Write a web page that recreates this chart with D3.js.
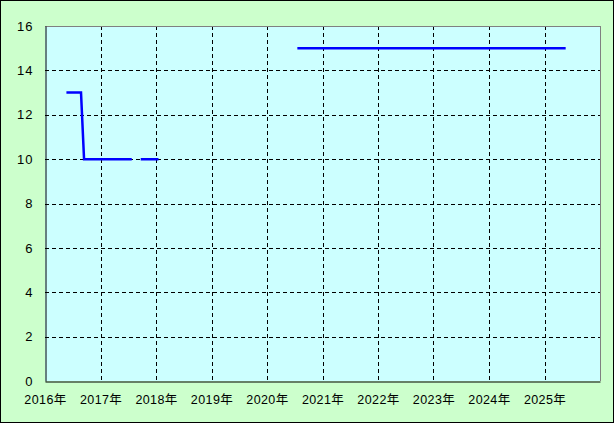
<!DOCTYPE html>
<html>
<head>
<meta charset="utf-8">
<script src="https://cdn.jsdelivr.net/npm/d3@7"></script>
<style>
  html, body { margin: 0; padding: 0; background: #ffffff; }
  svg { display: block; }
</style>
</head>
<body>
<svg id="chart" width="615" height="424"></svg>
<script>
// ---- data ----
const dates = ["2016-05-21", "2016-08-25", "2016-09-14", "2017-07-25", null,
               "2017-09-22", "2018-01-17", null,
               "2020-07-19", "2025-05-20"];
const values = [13, 13, 10, 10, null, 10, 10, null, 15, 15];
const yTicks = [0, 2, 4, 6, 8, 10, 12, 14, 16];
const xTickYears = [2016, 2017, 2018, 2019, 2020, 2021, 2022, 2023, 2024, 2025];
const xTickLabels = ["2016年", "2017年", "2018年", "2019年", "2020年", "2021年", "2022年", "2023年", "2024年", "2025年"];

// ---- layout ----
const W = 615, H = 424;
const plot = { left: 45, top: 26, right: 600, bottom: 381 };

const svg = d3.select("#chart");

svg.append("rect").attr("x", 0.5).attr("y", 0.5).attr("width", W - 2).attr("height", H - 2)
  .attr("fill", "#ccffcc").attr("stroke", "#000").attr("stroke-width", 1);

svg.append("rect").attr("x", plot.left).attr("y", plot.top)
  .attr("width", plot.right - plot.left).attr("height", plot.bottom - plot.top)
  .attr("fill", "#ccffff");

const x = d3.scaleTime()
  .domain([new Date(2016, 0, 1), new Date(2026, 0, 1)])
  .range([plot.left, plot.right]);
const y = d3.scaleLinear().domain([0, 16]).range([plot.bottom, plot.top]);

// grid
const grid = svg.append("g").attr("stroke", "#000").attr("stroke-width", 1)
  .attr("stroke-dasharray", "4,3").attr("shape-rendering", "crispEdges");
yTicks.filter(v => v > 0 && v < 16).forEach(v => {
  grid.append("line").attr("x1", plot.left).attr("x2", plot.right)
    .attr("y1", Math.round(y(v)) + 0.5).attr("y2", Math.round(y(v)) + 0.5);
});
xTickYears.filter(yr => yr > 2016).forEach(yr => {
  const xx = Math.round(x(new Date(yr, 0, 1))) + 0.5;
  grid.append("line").attr("x1", xx).attr("x2", xx)
    .attr("y1", plot.top).attr("y2", plot.bottom);
});

// frame: top/right gray, left/bottom black
svg.append("line").attr("x1", plot.left).attr("x2", plot.right + 0.5)
  .attr("y1", plot.top + 0.5).attr("y2", plot.top + 0.5).attr("stroke", "#808080");
svg.append("line").attr("x1", plot.right + 0.5).attr("x2", plot.right + 0.5)
  .attr("y1", plot.top).attr("y2", plot.bottom).attr("stroke", "#808080");

// axes
const yAxis = d3.axisLeft(y).tickValues(yTicks).tickSize(0).tickPadding(12);
const gy = svg.append("g").attr("transform", `translate(${plot.left + 0.5},0)`).call(yAxis);
gy.select(".domain").attr("stroke", "#000");
gy.selectAll("text").attr("font-family", "'Liberation Sans', Arial, sans-serif")
  .attr("font-size", 13).attr("letter-spacing", "1px").attr("fill", "#000");

const xAxis = d3.axisBottom(x)
  .tickValues(xTickYears.map(yr => new Date(yr, 0, 1)))
  .tickFormat((d, i) => xTickLabels[i]).tickSize(0).tickPadding(14);
const gx = svg.append("g").attr("transform", `translate(0,${plot.bottom + 0.5})`).call(xAxis);
gx.select(".domain").attr("stroke", "#000");
gx.selectAll("text").attr("font-family", "'Liberation Sans', 'Noto Sans CJK JP', sans-serif")
  .attr("font-size", 12.5).attr("letter-spacing", "0.4px").attr("fill", "#000");

// line
const pts = dates.map((d, i) => ({ date: d ? new Date(d + "T00:00:00") : null, v: values[i] }));
const line = d3.line().defined(p => p.date && p.v != null)
  .x(p => x(p.date)).y(p => y(p.v));
svg.append("path").datum(pts).attr("d", line)
  .attr("fill", "none").attr("stroke", "#0000ff").attr("stroke-width", 2.5);
</script>
</body>
</html>
